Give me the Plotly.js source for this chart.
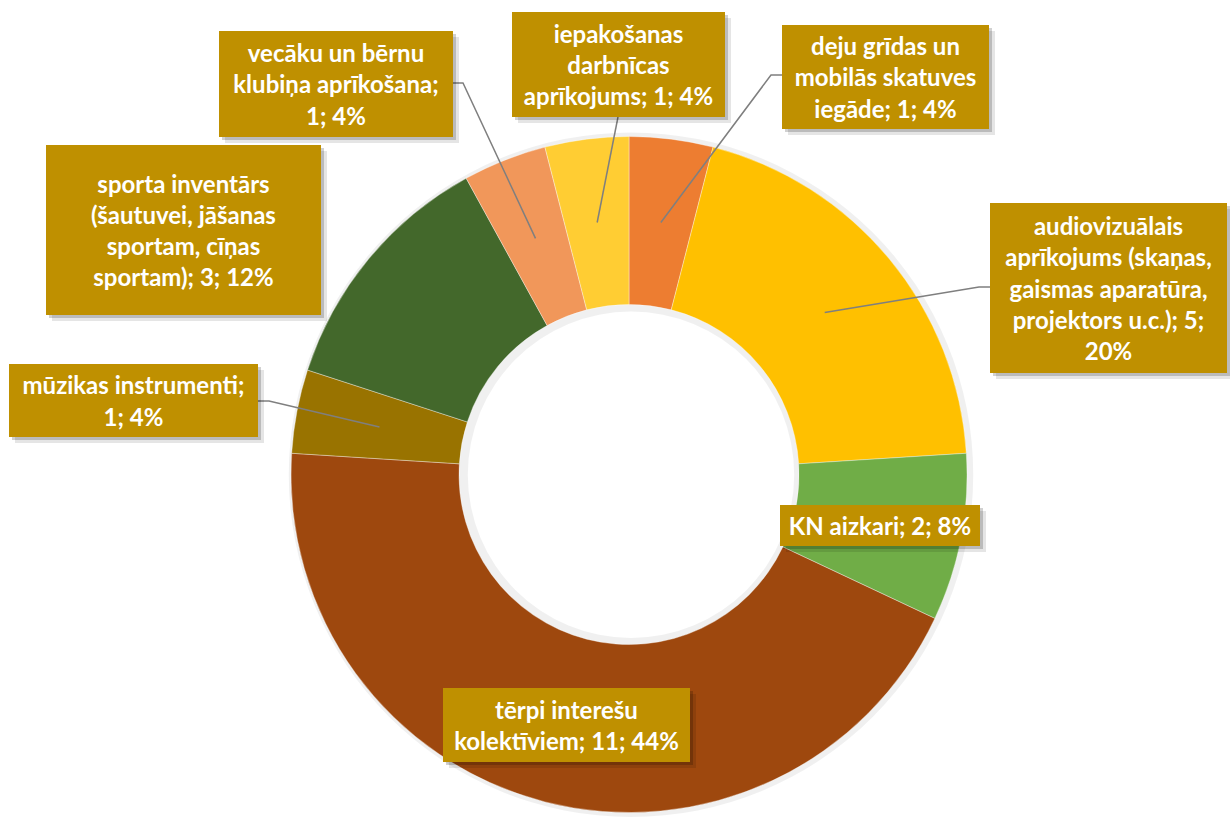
<!DOCTYPE html>
<html>
<head>
<meta charset="utf-8">
<script src="https://cdn.plot.ly/plotly-3.0.1.min.js"></script>
<style>
html,body{margin:0;padding:0;background:#fff;}
#chart{width:1230px;height:817px;}
</style>
</head>
<body>
<div id="chart"></div>
<script>
// ---- data ----
const categories = [
  "deju grīdas un mobilās skatuves iegāde",
  "audiovizuālais aprīkojums (skaņas, gaismas aparatūra, projektors u.c.)",
  "KN aizkari",
  "tērpi interešu kolektīviem",
  "mūzikas instrumenti",
  "sporta inventārs (šautuvei, jāšanas sportam, cīņas sportam)",
  "vecāku un bērnu klubiņa aprīkošana",
  "iepakošanas darbnīcas aprīkojums"
];
const counts = [1, 5, 2, 11, 1, 3, 1, 1];
// label text as wrapped in the original ({v} = count, {p} = percent)
const labelLines = [
  ["deju grīdas un", "mobilās skatuves", "iegāde; {v}; {p}%"],
  ["audiovizuālais", "aprīkojums (skaņas,", "gaismas aparatūra,", "projektors u.c.); {v};", "{p}%"],
  ["KN aizkari; {v}; {p}%"],
  ["tērpi interešu", "kolektīviem; {v}; {p}%"],
  ["mūzikas instrumenti;", "{v}; {p}%"],
  ["sporta inventārs", "(šautuvei, jāšanas", "sportam, cīņas", "sportam); {v}; {p}%"],
  ["vecāku un bērnu", "klubiņa aprīkošana;", "{v}; {p}%"],
  ["iepakošanas", "darbnīcas", "aprīkojums; {v}; {p}%"]
];
const sliceColors = ["#ED7D31", "#FFC000", "#70AD47", "#9E480E", "#997300", "#43682B", "#F1975A", "#FFCD33"];

// ---- layout (pixels) ----
const W = 1230, H = 817;
const pieBox = {x0: 291, x1: 967, y0: 136.5, y1: 812.5};
const holeFrac = 0.503;
// label boxes: center x, center y, width, height
const boxes = [
  [885.5, 77, 207, 104],
  [1108.5, 288, 237, 170],
  [880, 525.5, 200, 41],
  [566.5, 725, 247, 74],
  [133.5, 400.5, 249, 73],
  [183.5, 230, 275, 170],
  [336, 84, 234, 106],
  [618.5, 64.5, 213, 105]
];
// leader anchor points on the box edge (null = no leader)
const leaderStarts = [
  [[782, 75], [771, 75]],
  [[990, 287], [979, 287]],
  null,
  null,
  [[258, 401], [269, 401]],
  null,
  [[453, 83], [463, 83]],
  [[618, 117]]
];

const total = counts.reduce((a, b) => a + b, 0);
const px = x => x / W;
const py = y => 1 - y / H;

const cx = (pieBox.x0 + pieBox.x1) / 2, cy = (pieBox.y0 + pieBox.y1) / 2;
const R = Math.min(pieBox.x1 - pieBox.x0, pieBox.y1 - pieBox.y0) / 2;
const rMid = (R + R * holeFrac) / 2;

// mid angle of each slice (clockwise from 12 o'clock)
let cum = 0;
const midPts = counts.map(v => {
  const a = (cum + v / 2) / total * 2 * Math.PI;
  cum += v;
  return [cx + rMid * Math.sin(a), cy - rMid * Math.cos(a)];
});

const shadowPie = {
  type: 'pie', values: [1], sort: false, textinfo: 'none', hoverinfo: 'skip',
  marker: {colors: ['rgba(0,0,0,0.06)']}, showlegend: false,
  hole: (R * holeFrac - 6) / (R + 6),
  domain: {x: [px(pieBox.x0 - 4), px(pieBox.x1 + 8)], y: [py(pieBox.y1 + 8), py(pieBox.y0 - 4)]}
};

const pie = {
  type: 'pie', labels: categories, values: counts, sort: false,
  direction: 'clockwise', rotation: 0, hole: holeFrac,
  textinfo: 'none', hoverinfo: 'label+value+percent', showlegend: false,
  marker: {colors: sliceColors, line: {color: 'rgba(255,255,255,0.6)', width: 0.6}},
  domain: {x: [px(pieBox.x0), px(pieBox.x1)], y: [py(pieBox.y1), py(pieBox.y0)]}
};

const annotations = [];
const shapes = [];
const font = {family: 'Lato, "Open Sans", sans-serif', size: 24, color: '#FFFFFF'};

boxes.forEach((b, i) => {
  const [bx, by, bw, bh] = b;
  // drop shadow layers
  [[6, 0.10], [3, 0.18]].forEach(([o, a]) => {
    annotations.push({
      xref: 'paper', yref: 'paper', x: px(bx), y: py(by), xanchor: 'center', yanchor: 'middle',
      xshift: o, yshift: -o, showarrow: false, text: ' ', width: bw, height: bh,
      bgcolor: `rgba(0,0,0,${a})`, borderpad: 0, borderwidth: 0
    });
  });
});
boxes.forEach((b, i) => {
  const [bx, by, bw, bh] = b;
  const pct = Math.round(counts[i] / total * 100);
  const text = labelLines[i].map(s => '<b>' + s.replace('{v}', counts[i]).replace('{p}', pct) + '</b>').join('<br>');
  annotations.push({
    xref: 'paper', yref: 'paper', x: px(bx), y: py(by), xanchor: 'center', yanchor: 'middle',
    showarrow: false, text: text, width: bw, height: bh, align: 'center', valign: 'middle',
    bgcolor: '#BF9000', borderpad: 0, borderwidth: 0, font: font
  });
});

leaderStarts.forEach((pts, i) => {
  if (!pts) return;
  const all = pts.concat([midPts[i]]);
  const path = all.map((p, k) => (k ? 'L' : 'M') + px(p[0]) + ',' + py(p[1])).join(' ');
  shapes.push({type: 'path', xref: 'paper', yref: 'paper', path: path,
    line: {color: '#7F7F7F', width: 1.5}, layer: 'above'});
});

const layout = {
  width: W, height: H, margin: {l: 0, r: 0, t: 0, b: 0},
  paper_bgcolor: '#FFFFFF', plot_bgcolor: '#FFFFFF',
  showlegend: false, annotations: annotations, shapes: shapes
};

Plotly.newPlot('chart', [shadowPie, pie], layout, {displayModeBar: false, staticPlot: false});
</script>
</body>
</html>
